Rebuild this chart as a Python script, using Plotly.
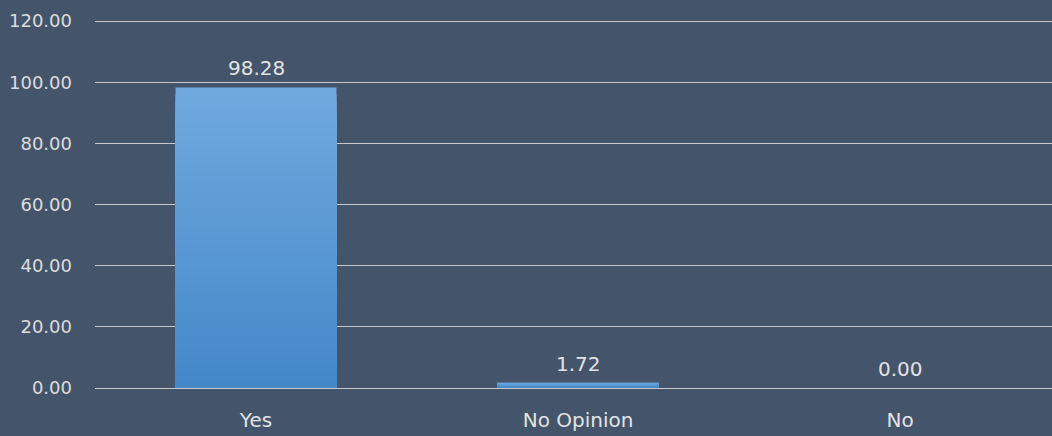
import plotly.graph_objects as go

categories = ["Yes", "No Opinion", "No"]
values = [98.28, 1.72, 0.00]
tick_vals = [0, 20, 40, 60, 80, 100, 120]
tick_text = ["0.00", "20.00", "40.00", "60.00", "80.00", "100.00", "120.00"]

top_rgb = (112, 169, 222)
bot_rgb = (68, 136, 201)
N = 40

fig = go.Figure()
# gradient: overlaid bars of decreasing fraction of the value, darker toward the base
for i in range(N):
    f = 1 - i / N
    t = i / (N - 1)
    c = tuple(round(top_rgb[k] + (bot_rgb[k] - top_rgb[k]) * t) for k in range(3))
    fig.add_trace(go.Bar(
        x=categories, y=[v * f for v in values], width=0.5,
        marker=dict(color=f"rgb{c}", line=dict(width=0)),
        hoverinfo="skip", showlegend=False,
    ))

for cat, v in zip(categories, values):
    fig.add_annotation(
        x=cat, y=v, text=f"{v:.2f}", showarrow=False,
        yanchor="bottom", yshift=5,
        font=dict(family="DejaVu Sans", size=20, color="#E3E3E3"),
    )

fig.update_layout(
    width=1052, height=436,
    barmode="overlay",
    paper_bgcolor="#44546A", plot_bgcolor="#44546A",
    margin=dict(l=95, r=0, t=18, b=48),
    font=dict(family="DejaVu Sans", size=18, color="#DDDDDD"),
    xaxis=dict(range=[-0.5, 2.472], showgrid=False, showline=False, zeroline=False,
               tickfont=dict(size=20, color="#E3E3E3"), ticks="",
               ticklabelstandoff=18, automargin=False),
    yaxis=dict(range=[0, 121], tickvals=tick_vals, ticktext=tick_text,
               showgrid=True, gridcolor="#C8C8C8", gridwidth=1,
               zeroline=True, zerolinecolor="#C8C8C8", zerolinewidth=1,
               tickfont=dict(size=18, color="#DDDDDD"), ticks="",
               ticklabelstandoff=22, automargin=False),
)

fig.write_html(
    "out.html",
    config={"displayModeBar": False},
    post_script="document.body.style.margin='0';document.body.style.padding='0';",
)
